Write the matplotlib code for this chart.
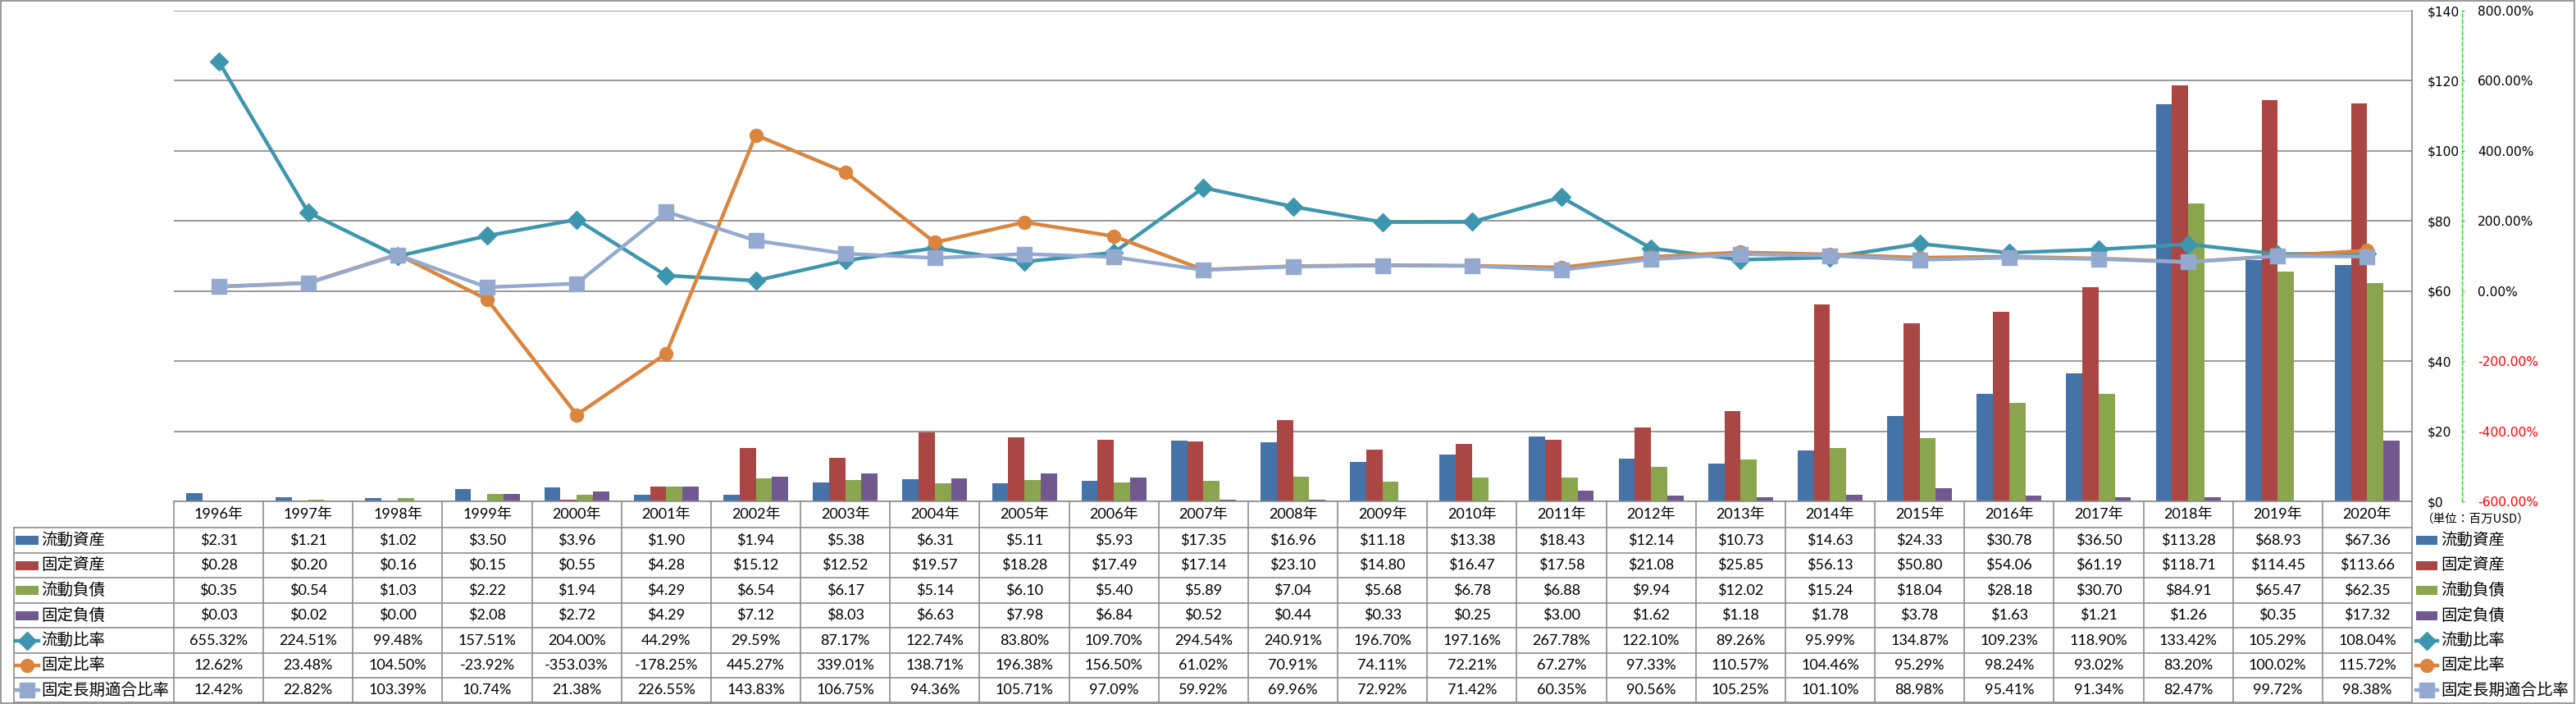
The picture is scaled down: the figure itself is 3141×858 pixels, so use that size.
import matplotlib
matplotlib.use('Agg')
import matplotlib.pyplot as plt
import matplotlib.transforms as mtransforms
from matplotlib.lines import Line2D
from matplotlib.patches import Rectangle
import numpy as np

# ---------------- data ----------------
years = ["1996年", "1997年", "1998年", "1999年", "2000年", "2001年", "2002年", "2003年",
         "2004年", "2005年", "2006年", "2007年", "2008年", "2009年", "2010年", "2011年",
         "2012年", "2013年", "2014年", "2015年", "2016年", "2017年", "2018年", "2019年", "2020年"]

current_assets = [2.31, 1.21, 1.02, 3.50, 3.96, 1.90, 1.94, 5.38, 6.31, 5.11, 5.93, 17.35, 16.96,
                  11.18, 13.38, 18.43, 12.14, 10.73, 14.63, 24.33, 30.78, 36.50, 113.28, 68.93, 67.36]
fixed_assets = [0.28, 0.20, 0.16, 0.15, 0.55, 4.28, 15.12, 12.52, 19.57, 18.28, 17.49, 17.14, 23.10,
                14.80, 16.47, 17.58, 21.08, 25.85, 56.13, 50.80, 54.06, 61.19, 118.71, 114.45, 113.66]
current_liab = [0.35, 0.54, 1.03, 2.22, 1.94, 4.29, 6.54, 6.17, 5.14, 6.10, 5.40, 5.89, 7.04,
                5.68, 6.78, 6.88, 9.94, 12.02, 15.24, 18.04, 28.18, 30.70, 84.91, 65.47, 62.35]
fixed_liab = [0.03, 0.02, 0.00, 2.08, 2.72, 4.29, 7.12, 8.03, 6.63, 7.98, 6.84, 0.52, 0.44,
              0.33, 0.25, 3.00, 1.62, 1.18, 1.78, 3.78, 1.63, 1.21, 1.26, 0.35, 17.32]
current_ratio = [655.32, 224.51, 99.48, 157.51, 204.00, 44.29, 29.59, 87.17, 122.74, 83.80, 109.70,
                 294.54, 240.91, 196.70, 197.16, 267.78, 122.10, 89.26, 95.99, 134.87, 109.23,
                 118.90, 133.42, 105.29, 108.04]
fixed_ratio = [12.62, 23.48, 104.50, -23.92, -353.03, -178.25, 445.27, 339.01, 138.71, 196.38, 156.50,
               61.02, 70.91, 74.11, 72.21, 67.27, 97.33, 110.57, 104.46, 95.29, 98.24, 93.02,
               83.20, 100.02, 115.72]
fixed_lt_ratio = [12.42, 22.82, 103.39, 10.74, 21.38, 226.55, 143.83, 106.75, 94.36, 105.71, 97.09,
                  59.92, 69.96, 72.92, 71.42, 60.35, 90.56, 105.25, 101.10, 88.98, 95.41, 91.34,
                  82.47, 99.72, 98.38]

bar_names = ["流動資産", "固定資産", "流動負債", "固定負債"]
line_names = ["流動比率", "固定比率", "固定長期適合比率"]
unit_label = "（単位：百万USD）"

bar_colors = ["#4572A7", "#AA4643", "#89A54E", "#71588F"]
line_colors = ["#3D96AE", "#DB843D", "#93A9CF"]
line_markers = ["D", "o", "s"]
line_ms = [11.5, 11.5, 12.5]

# ---------------- layout ----------------
W, H, DPI = 3141, 858, 100
fig = plt.figure(figsize=(W / DPI, H / DPI), dpi=DPI)


def fx(px):
    return px / W


def fy(py):
    return 1 - py / H


PL, PR, PT, PB = 212, 2941, 13, 611
ax = fig.add_axes([fx(PL), fy(PB), (PR - PL) / W, (PB - PT) / H])

n = len(years)
x = np.arange(n)
bw = 0.181
bar_series = [current_assets, fixed_assets, current_liab, fixed_liab]
for k, (vals, col) in enumerate(zip(bar_series, bar_colors)):
    ax.bar(x + (k - 1.5) * bw, vals, bw, color=col, zorder=2, linewidth=0)

ax.set_xlim(-0.5, n - 0.5)
ax.set_ylim(0, 140)
ax.set_xticks([])
ax.grid(axis='y', color='#868686', lw=1.2, zorder=0)
ax.set_axisbelow(True)

ax2 = ax.twinx()

# primary ($) axis on the right, next to the plot
ax.yaxis.tick_right()
ax.yaxis.set_label_position('right')
ax.set_yticks(range(0, 141, 20))
ax.set_yticklabels([f"${v}" for v in range(0, 141, 20)])
for s in ['left', 'top', 'bottom']:
    ax.spines[s].set_visible(False)
ax.spines['right'].set_visible(True)
ax.spines['right'].set_color('#868686')
ax.spines['right'].set_linewidth(1.2)
ax.tick_params(axis='y', which='both', left=False, labelleft=False, right=False,
               labelright=True, length=0, pad=13.5, labelsize=11.2, labelcolor='black')

# secondary (%) axis further right with a green dashed spine
ax2.set_ylim(-600, 800)
pticks = list(range(-600, 801, 200))
ax2.set_yticks(pticks)
ax2.set_yticklabels([f"{v:.2f}%" for v in pticks])
for s in ['left', 'top', 'bottom']:
    ax2.spines[s].set_visible(False)
ax2.spines['right'].set_position(('outward', 61 * 0.72))
ax2.spines['right'].set_color('#22DD22')
ax2.spines['right'].set_linestyle((0, (3, 2)))
ax2.spines['right'].set_linewidth(1.0)
ax2.tick_params(axis='y', length=2.2, width=1, color='#22DD22', direction='out',
                pad=11.5, labelsize=11.2)
for v, lab in zip(pticks, ax2.get_yticklabels()):
    lab.set_color('#FF0000' if v < 0 else 'black')

line_series = [current_ratio, fixed_ratio, fixed_lt_ratio]
for vals, col, mk, ms in zip(line_series, line_colors, line_markers, line_ms):
    ax2.plot(x, vals, color=col, lw=3.2, marker=mk, ms=ms, mfc=col, mec=col,
             zorder=5, clip_on=False, solid_joinstyle='round')

# ---------------- data table ----------------
tr = mtransforms.blended_transform_factory(ax.transData, fig.transFigure)
rows_y = [611, 643, 674, 704, 735, 765, 796, 826, 856]
grid_c = '#8C8C8C'
tbl_lw = 1.2

fig.add_artist(Line2D([fx(PL), fx(PR)], [fy(rows_y[0])] * 2, color=grid_c, lw=tbl_lw))
for yy in rows_y[1:]:
    fig.add_artist(Line2D([fx(17), fx(PR)], [fy(yy)] * 2, color=grid_c, lw=tbl_lw))
for i in range(n + 1):
    fig.add_artist(Line2D([i - 0.5, i - 0.5], [fy(rows_y[0]), fy(rows_y[-1])],
                          transform=tr, color=grid_c, lw=tbl_lw))
fig.add_artist(Line2D([fx(17), fx(17)], [fy(rows_y[1]), fy(rows_y[-1])], color=grid_c, lw=tbl_lw))

tfam = ['Lato', 'Noto Sans CJK JP']
hy = (rows_y[0] + rows_y[1]) / 2
for i, yl in enumerate(years):
    fig.text(i, fy(hy), yl, transform=tr, ha='center', va='center', fontsize=13, family=tfam)

table_rows = []
for vals in bar_series:
    table_rows.append([f"${v:.2f}" for v in vals])
for vals in line_series:
    table_rows.append([f"{v:.2f}%" for v in vals])

row_centers = [(rows_y[r + 1] + rows_y[r + 2]) / 2 for r in range(7)]
for r, row in enumerate(table_rows):
    yc = row_centers[r]
    for i, s in enumerate(row):
        fig.text(i, fy(yc), s, transform=tr, ha='center', va='center', fontsize=13, family=tfam)


def draw_key(x0, x1, yc, r):
    if r < 4:
        fig.add_artist(Rectangle((fx(x0), fy(yc + 5.5)), (x1 - x0) / W, 11 / H,
                                 color=bar_colors[r], transform=fig.transFigure, lw=0))
    else:
        k = r - 4
        fig.add_artist(Line2D([fx(x0), fx(x1)], [fy(yc)] * 2, color=line_colors[k], lw=3.2))
        fig.add_artist(Line2D([fx((x0 + x1) / 2)], [fy(yc)], color=line_colors[k], lw=0,
                              marker=line_markers[k], ms=line_ms[k], mfc=line_colors[k],
                              mec=line_colors[k]))


all_names = bar_names + line_names
for r, name in enumerate(all_names):
    yc = row_centers[r]
    draw_key(19, 47, yc, r)
    fig.text(fx(50), fy(yc), name, ha='left', va='center', fontsize=14,
             family=['Noto Sans CJK JP', 'DejaVu Sans'])
    draw_key(2946, 2972, yc, r)
    fig.text(fx(2976), fy(yc), name, ha='left', va='center', fontsize=14,
             family=['Noto Sans CJK JP', 'DejaVu Sans'])

fig.text(fx(2953), fy(633), unit_label, ha='left', va='center', fontsize=10.5,
         family=['Noto Sans CJK JP', 'DejaVu Sans'])

fig.add_artist(Rectangle((fx(1), fy(857)), (W - 3) / W, 856 / H, fill=False,
                         edgecolor='#888888', lw=1.2, transform=fig.transFigure))

fig.savefig('out.png', dpi=DPI)
